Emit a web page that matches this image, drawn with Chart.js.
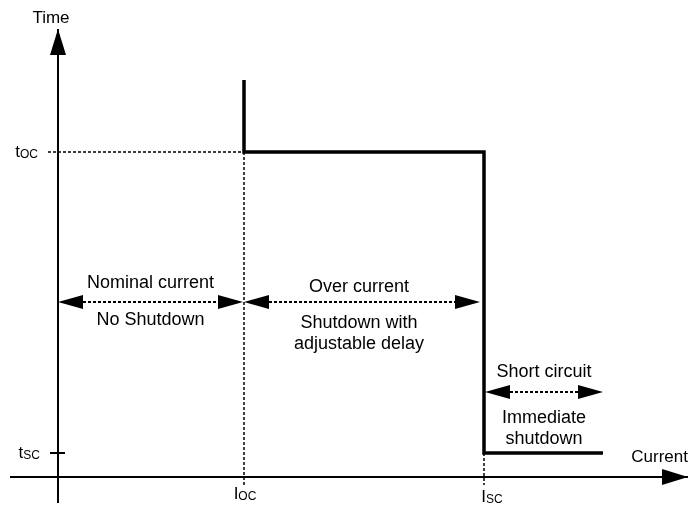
<!DOCTYPE html>
<html>
<head>
<meta charset="utf-8">
<script src="https://cdn.jsdelivr.net/npm/chart.js@4.4.1/dist/chart.umd.min.js"></script>
<style>
    html, body { margin: 0; padding: 0; background: #fff; }
    #wrap { width: 690px; height: 515px; }
</style>
</head>
<body>
<div id="wrap"><canvas id="chart" width="690" height="515"></canvas></div>
<script>
// -----------------------------
// DATA (current / time units, origin at the axis crossing)
// -----------------------------
const axisX = [-48, 630];          // current axis, start -> arrow tip
const axisY = [-26, 448];          // time axis, start -> arrow tip
const axisTitles = ["Current", "Time"];

const currentNames = ["I", "I"];
const currentSubs = ["OC", "SC"];
const currentValues = [186, 426];  // Ioc, Isc

const timeNames = ["t", "t"];
const timeSubs = ["OC", "SC"];
const timeValues = [325, 24];      // toc, tsc

const tripX = [186, 186, 426, 426, 545];
const tripY = [397, 325, 325, 24, 24];

const zoneTitles = ["Nominal current", "Over current", "Short circuit"];
const zoneNotes = [["No Shutdown"], ["Shutdown with", "adjustable delay"], ["Immediate", "shutdown"]];
const zoneFrom = [0, 186, 427];
const zoneTo = [185, 422, 545];
const zoneTime = [175, 175, 85];

// -----------------------------
// LAYOUT / STYLE
// -----------------------------
const FONT = "Liberation Sans, Arial, Helvetica, sans-serif";
const titleDy = [-14, -10, -15];
const noteDy = [23, 26, 31];
const lineGap = 21;

function seg(x0, y0, x1, y1) {
    return [{ x: x0, y: y0 }, { x: x1, y: y1 }];
}

function lineSet(data, width, dash) {
    return {
        data,
        showLine: true,
        borderColor: "#000",
        borderWidth: width,
        borderDash: dash || [],
        borderJoinStyle: "miter",
        pointRadius: 0,
        fill: false,
        tension: 0
    };
}

const datasets = [
    lineSet(seg(axisX[0], 0, axisX[1], 0), 2),
    lineSet(seg(0, axisY[0], 0, axisY[1]), 2),
    lineSet(seg(-8, timeValues[1], 7, timeValues[1]), 2),
    lineSet(seg(-10, timeValues[0], currentValues[0], timeValues[0]), 1.5, [3, 2]),
    lineSet(seg(currentValues[0], timeValues[0], currentValues[0], -8), 1.5, [3, 2]),
    lineSet(seg(currentValues[1], timeValues[1], currentValues[1], -8), 1.5, [3, 2]),
    lineSet(tripX.map((x, i) => ({ x, y: tripY[i] })), 3.5)
];

zoneFrom.forEach((x0, i) => {
    datasets.push(lineSet(seg(x0 + 10, zoneTime[i], zoneTo[i] - 10, zoneTime[i]), 2, [3, 2]));
});

// -----------------------------
// ARROWS + TEXT
// -----------------------------
function head(ctx, tx, ty, dx, dy, len, half) {
    const bx = tx - dx * len, by = ty - dy * len;
    ctx.beginPath();
    ctx.moveTo(tx, ty);
    ctx.lineTo(bx - dy * half, by + dx * half);
    ctx.lineTo(bx + dy * half, by - dx * half);
    ctx.closePath();
    ctx.fill();
}

function subText(ctx, main, sub, x, y, align) {
    ctx.font = "17px " + FONT;
    const w1 = ctx.measureText(main).width;
    ctx.font = "12px " + FONT;
    const w2 = ctx.measureText(sub).width;
    let left = x;
    if (align === "right") left = x - w1 - w2;
    if (align === "center") left = x - (w1 + w2) / 2;
    ctx.textAlign = "left";
    ctx.font = "17px " + FONT;
    ctx.fillText(main, left, y);
    ctx.font = "12px " + FONT;
    ctx.fillText(sub, left + w1, y + 1);
}

const annotations = {
    id: "annotations",
    afterDatasetsDraw(chart) {
        const ctx = chart.ctx;
        const px = v => chart.scales.x.getPixelForValue(v);
        const py = v => chart.scales.y.getPixelForValue(v);
        ctx.save();
        ctx.fillStyle = "#000";
        ctx.textBaseline = "alphabetic";

        // axis arrow heads
        head(ctx, px(axisX[1]), py(0), 1, 0, 26, 8);
        head(ctx, px(0), py(axisY[1]), 0, -1, 26, 8);

        // zone double arrows
        zoneFrom.forEach((x0, i) => {
            const y = py(zoneTime[i]);
            head(ctx, px(x0), y, -1, 0, 25, 7);
            head(ctx, px(zoneTo[i]), y, 1, 0, 25, 7);
        });

        // axis titles
        ctx.font = "17px " + FONT;
        ctx.textAlign = "center";
        ctx.fillText(axisTitles[1], px(0) - 7, py(axisY[1]) - 6);
        ctx.textAlign = "right";
        ctx.fillText(axisTitles[0], px(axisX[1]), py(0) - 15);

        // tick labels
        subText(ctx, timeNames[0], timeSubs[0], px(0) - 20, py(timeValues[0]) + 5, "right");
        subText(ctx, timeNames[1], timeSubs[1], px(0) - 18, py(timeValues[1]) + 5, "right");
        subText(ctx, currentNames[0], currentSubs[0], px(currentValues[0]) + 1, py(0) + 22, "center");
        subText(ctx, currentNames[1], currentSubs[1], px(currentValues[1]) + 8, py(0) + 25, "center");

        // zone texts
        ctx.font = "18px " + FONT;
        ctx.textAlign = "center";
        zoneTitles.forEach((t, i) => {
            const cx = (px(zoneFrom[i]) + px(zoneTo[i])) / 2 - (i === 1 ? 3 : 0);
            const y = py(zoneTime[i]);
            ctx.fillText(t, cx, y + titleDy[i]);
            zoneNotes[i].forEach((line, j) => {
                ctx.fillText(line, cx, y + noteDy[i] + j * lineGap);
            });
        });
        ctx.restore();
    }
};

// -----------------------------
// CHART
// -----------------------------
new Chart(document.getElementById("chart").getContext("2d"), {
    type: "scatter",
    data: { datasets },
    options: {
        responsive: false,
        animation: false,
        devicePixelRatio: 1,
        layout: { padding: 0 },
        plugins: {
            legend: { display: false },
            tooltip: { enabled: false }
        },
        scales: {
            x: { type: "linear", display: false, min: -58, max: 632 },
            y: { type: "linear", display: false, min: -38, max: 477 }
        }
    },
    plugins: [annotations]
});
</script>
</body>
</html>
